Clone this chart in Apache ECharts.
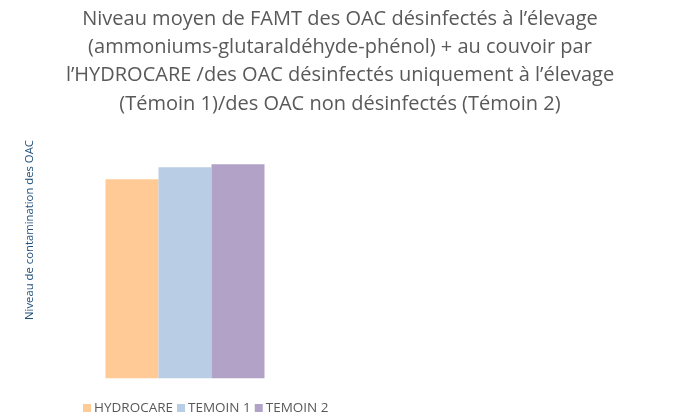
<!DOCTYPE html>
<html>
<head>
<meta charset="utf-8">
<script src="https://cdn.jsdelivr.net/npm/echarts@6/dist/echarts.min.js"></script>
<style>html,body{margin:0;padding:0;background:#fff}#c{width:700px;height:416px}</style>
</head>
<body>
<div id="c"></div>
<script>
var categories = [''];
var seriesNames = ['HYDROCARE', 'TEMOIN 1', 'TEMOIN 2'];
var hydrocare = [2.79];
var temoin1 = [2.96];
var temoin2 = [3.0];
var yAxisTitle = 'Niveau de contamination des OAC';
var colors = ['#FFCA96', '#B9CDE5', '#B3A2C7'];

var chart = echarts.init(document.getElementById('c'), null, {renderer: 'canvas'});
var values = [hydrocare, temoin1, temoin2];
var option = {
  animation: false,
  title: {
    text: 'Niveau moyen de FAMT des OAC désinfectés à l\u2019élevage\n(ammoniums-glutaraldéhyde-phénol) + au couvoir par\nl\u2019HYDROCARE /des OAC désinfectés uniquement à l\u2019élevage\n(Témoin 1)/des OAC non désinfectés (Témoin 2)',
    left: 335,
    top: 0,
    textAlign: 'center',
    textStyle: {
      fontFamily: 'Open Sans',
      fontSize: 20,
      fontWeight: 'normal',
      color: '#595959',
      lineHeight: 28.3
    }
  },
  legend: {
    data: seriesNames,
    left: 78,
    top: 396,
    itemWidth: 8,
    itemHeight: 8,
    itemGap: 4,
    icon: 'rect',
    textStyle: {fontFamily: 'Open Sans', fontSize: 13.5, color: '#595959', padding: [0, 0, 0, -2]}
  },
  graphic: [{
    type: 'text',
    x: 30,
    y: 230,
    rotation: Math.PI / 2,
    style: {
      text: yAxisTitle,
      fontFamily: 'Open Sans',
      fontSize: 11.3,
      fill: '#1F4E79',
      align: 'center',
      verticalAlign: 'middle'
    }
  }],
  grid: {left: 45, right: 375, top: 128.6, bottom: 416 - 378.3},
  xAxis: {
    type: 'category',
    data: categories,
    axisLine: {show: false},
    axisTick: {show: false},
    axisLabel: {show: false}
  },
  yAxis: {
    type: 'value',
    min: 0,
    max: 3.5,
    axisLine: {show: false},
    axisTick: {show: false},
    axisLabel: {show: false},
    splitLine: {show: false}
  },
  series: seriesNames.map(function (n, i) {
    return {
      name: n,
      type: 'bar',
      data: values[i],
      barWidth: 53,
      barGap: '0%',
      itemStyle: {color: colors[i]}
    };
  })
};
chart.setOption(option);
</script>
</body>
</html>
